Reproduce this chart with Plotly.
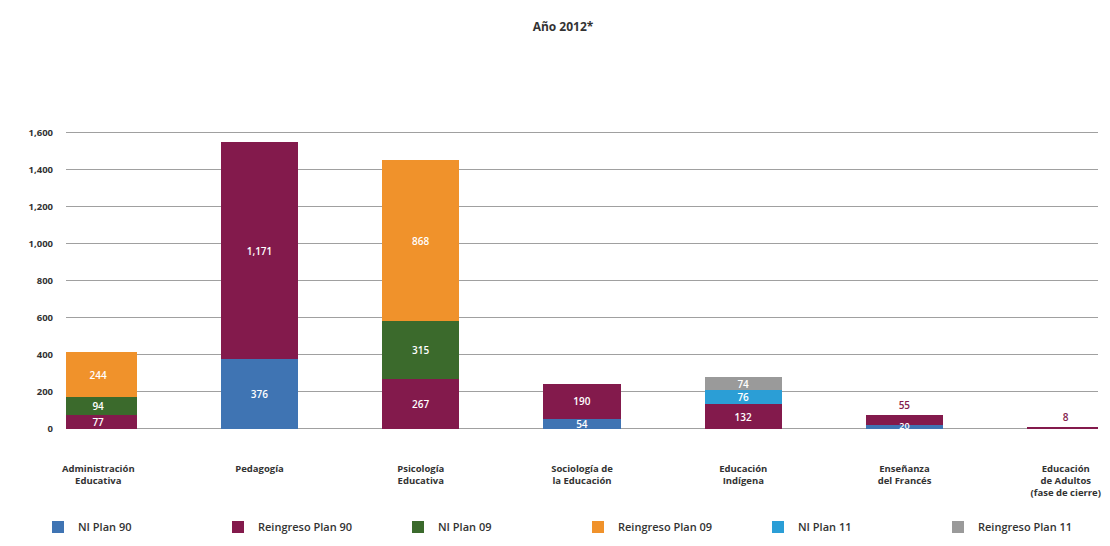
import plotly.graph_objects as go

categories = ["Administración<br>Educativa", "Pedagogía", "Psicología<br>Educativa",
              "Sociología de<br>la Educación", "Educación<br>Indígena",
              "Enseñanza<br>del Francés", "Educación<br>de Adultos<br>(fase de cierre)"]

ni_plan_90 = [None, 376, None, 54, None, 20, None]
reingreso_plan_90 = [77, 1171, 267, 190, 132, 55, 8]
ni_plan_09 = [94, None, 315, None, None, None, None]
reingreso_plan_09 = [244, None, 868, None, None, None, None]
ni_plan_11 = [None, None, None, None, 76, None, None]
reingreso_plan_11 = [None, None, None, None, 74, None, None]

series = [
    ("NI Plan 90", ni_plan_90, "#3f74b3"),
    ("Reingreso Plan 90", reingreso_plan_90, "#831a4c"),
    ("NI Plan 09", ni_plan_09, "#3b6a2c"),
    ("Reingreso Plan 09", reingreso_plan_09, "#f0922b"),
    ("NI Plan 11", ni_plan_11, "#2b9ed6"),
    ("Reingreso Plan 11", reingreso_plan_11, "#9a9a9a"),
]

y_ticks = [0, 200, 400, 600, 800, 1000, 1200, 1400, 1600]
small_threshold = 60  # segments too thin to hold their label inside

n = len(categories)
cum = [0] * n
extra_x, extra_y, extra_t = [], [], []
# find topmost non-null series per category
top_idx = []
for i in range(n):
    t = None
    for k, (_, vals, _) in enumerate(series):
        if vals[i] is not None:
            t = k
    top_idx.append(t)

fig = go.Figure()
for k, (name, vals, color) in enumerate(series):
    positions, texts = [], []
    for i, v in enumerate(vals):
        if v is None:
            positions.append("none"); texts.append("")
        elif v < small_threshold and top_idx[i] == k and i >= 5:
            positions.append("outside"); texts.append(f"{v:,}")
        elif v < small_threshold / 2:
            positions.append("none"); texts.append("")
            extra_x.append(i); extra_y.append(cum[i] + v / 2); extra_t.append(f"{v:,}")
        else:
            positions.append("inside"); texts.append(f"{v:,}")
        if v is not None:
            cum[i] += v
    fig.add_trace(go.Bar(
        name=name, x=list(range(n)), y=vals,
        marker=dict(color=color, line=dict(width=0)),
        text=texts,
        textposition=positions, insidetextanchor="middle", textangle=0,
        insidetextfont=dict(color="white", size=10, family="Open Sans", weight=600),
        outsidetextfont=dict(color="#831a4c", size=10, family="Open Sans", weight=600),
        cliponaxis=False,
    ))

fig.add_trace(go.Scatter(
    x=extra_x, y=extra_y, text=extra_t, mode="text", showlegend=False,
    textfont=dict(color="white", size=9, family="Open Sans", weight=600),
    hoverinfo="skip", cliponaxis=False,
))

fig.update_layout(
    barmode="stack",
    bargap=0.52,
    width=1110, height=546,
    paper_bgcolor="white", plot_bgcolor="white",
    margin=dict(l=58, r=20, t=106, b=86),
    title=dict(text="<b>Año 2012*</b>", x=0.5, xanchor="center", y=0.965, yanchor="middle",
               font=dict(size=12, color="#333333", family="Open Sans")),
    font=dict(family="Open Sans", color="#333333"),
    uniformtext=dict(minsize=10, mode="show"),
    legend=dict(orientation="h", x=-0.025, xanchor="left", y=-0.218, yanchor="middle",
                entrywidth=135, entrywidthmode="pixels",
                font=dict(size=11, color="#333333", family="Open Sans", weight=600),
                itemsizing="constant", traceorder="normal"),
    showlegend=True,
)
fig.update_xaxes(
    tickmode="array", tickvals=list(range(n)),
    ticktext=[f"<b>{c}</b>" for c in categories],
    range=[-0.2, 6.2], showgrid=False, zeroline=False, showline=False,
    tickfont=dict(size=9.5, color="#333333"), ticks="", ticklabelstandoff=8,
)
fig.update_yaxes(
    range=[-130, 1700], tickvals=y_ticks,
    ticktext=[f"<b>{t:,}</b>" for t in y_ticks],
    showgrid=True, gridcolor="#a0a0a0", gridwidth=1,
    zeroline=True, zerolinecolor="#a0a0a0", zerolinewidth=1,
    tickfont=dict(size=9.5, color="#333333"), ticks="", ticklabelstandoff=12,
)

fig.write_html("out.html")
